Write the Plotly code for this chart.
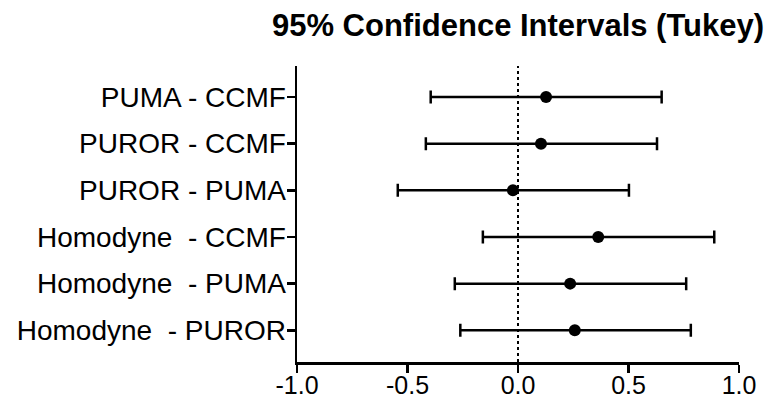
import plotly.graph_objects as go

comparisons = ["PUMA - CCMF", "PUROR - CCMF", "PUROR - PUMA",
               "Homodyne  - CCMF", "Homodyne  - PUMA", "Homodyne  - PUROR"]
mean_diff = [0.127, 0.104, -0.023, 0.363, 0.236, 0.257]
ci_lower = [-0.395, -0.417, -0.544, -0.159, -0.286, -0.261]
ci_upper = [0.650, 0.629, 0.502, 0.888, 0.761, 0.782]
x_tickvals = [-1.0, -0.5, 0.0, 0.5, 1.0]
x_ticktext = ["-1.0", "-0.5", "0.0", "0.5", "1.0"]

ypos = list(range(len(comparisons)))
plus = [u - m for u, m in zip(ci_upper, mean_diff)]
minus = [m - l for m, l in zip(mean_diff, ci_lower)]

fig = go.Figure()
fig.add_trace(go.Scatter(
    x=mean_diff, y=ypos, mode="markers",
    marker=dict(color="black", size=12, symbol="circle"),
    error_x=dict(type="data", array=plus, arrayminus=minus, symmetric=False,
                 color="black", thickness=2.5, width=6.5),
    showlegend=False, cliponaxis=False, hoverinfo="skip",
))

fig.add_shape(type="line", xref="x", yref="paper", x0=0, x1=0, y0=0, y1=1,
              line=dict(color="black", width=2, dash="dot"), layer="below")

fig.update_layout(
    width=771, height=400,
    margin=dict(l=297, r=32, t=66, b=38, autoexpand=False),
    paper_bgcolor="white", plot_bgcolor="white",
    font=dict(family="Liberation Sans, Arial, sans-serif", color="black"),
    title=dict(text="<b>95% Confidence Intervals (Tukey)</b>",
               font=dict(size=31, color="black", family="Liberation Sans, Arial, sans-serif"),
               xref="paper", x=0.5, xanchor="center",
               yref="container", y=1 - 25 / 400, yanchor="middle", automargin=False),
    xaxis=dict(range=[-1.0, 1.0], tickvals=x_tickvals, ticktext=x_ticktext,
               showgrid=False, zeroline=False, showline=True, linecolor="black",
               linewidth=2.5, ticks="outside", ticklen=8, tickwidth=2.5,
               tickcolor="black", tickfont=dict(size=25), automargin=False,
               ticklabelstandoff=-9),
    yaxis=dict(range=[5.68, -0.665], tickvals=ypos, ticktext=comparisons,
               showgrid=False, zeroline=False, showline=True, linecolor="black",
               linewidth=2.5, ticks="outside", ticklen=8, tickwidth=2.5,
               tickcolor="black", tickfont=dict(size=28), automargin=False,
               ticklabelstandoff=-5),
)

fig.write_html(
    "out.html",
    config={"displayModeBar": False, "staticPlot": True},
    post_script="document.body.style.margin='0';document.body.style.overflow='hidden';",
)
